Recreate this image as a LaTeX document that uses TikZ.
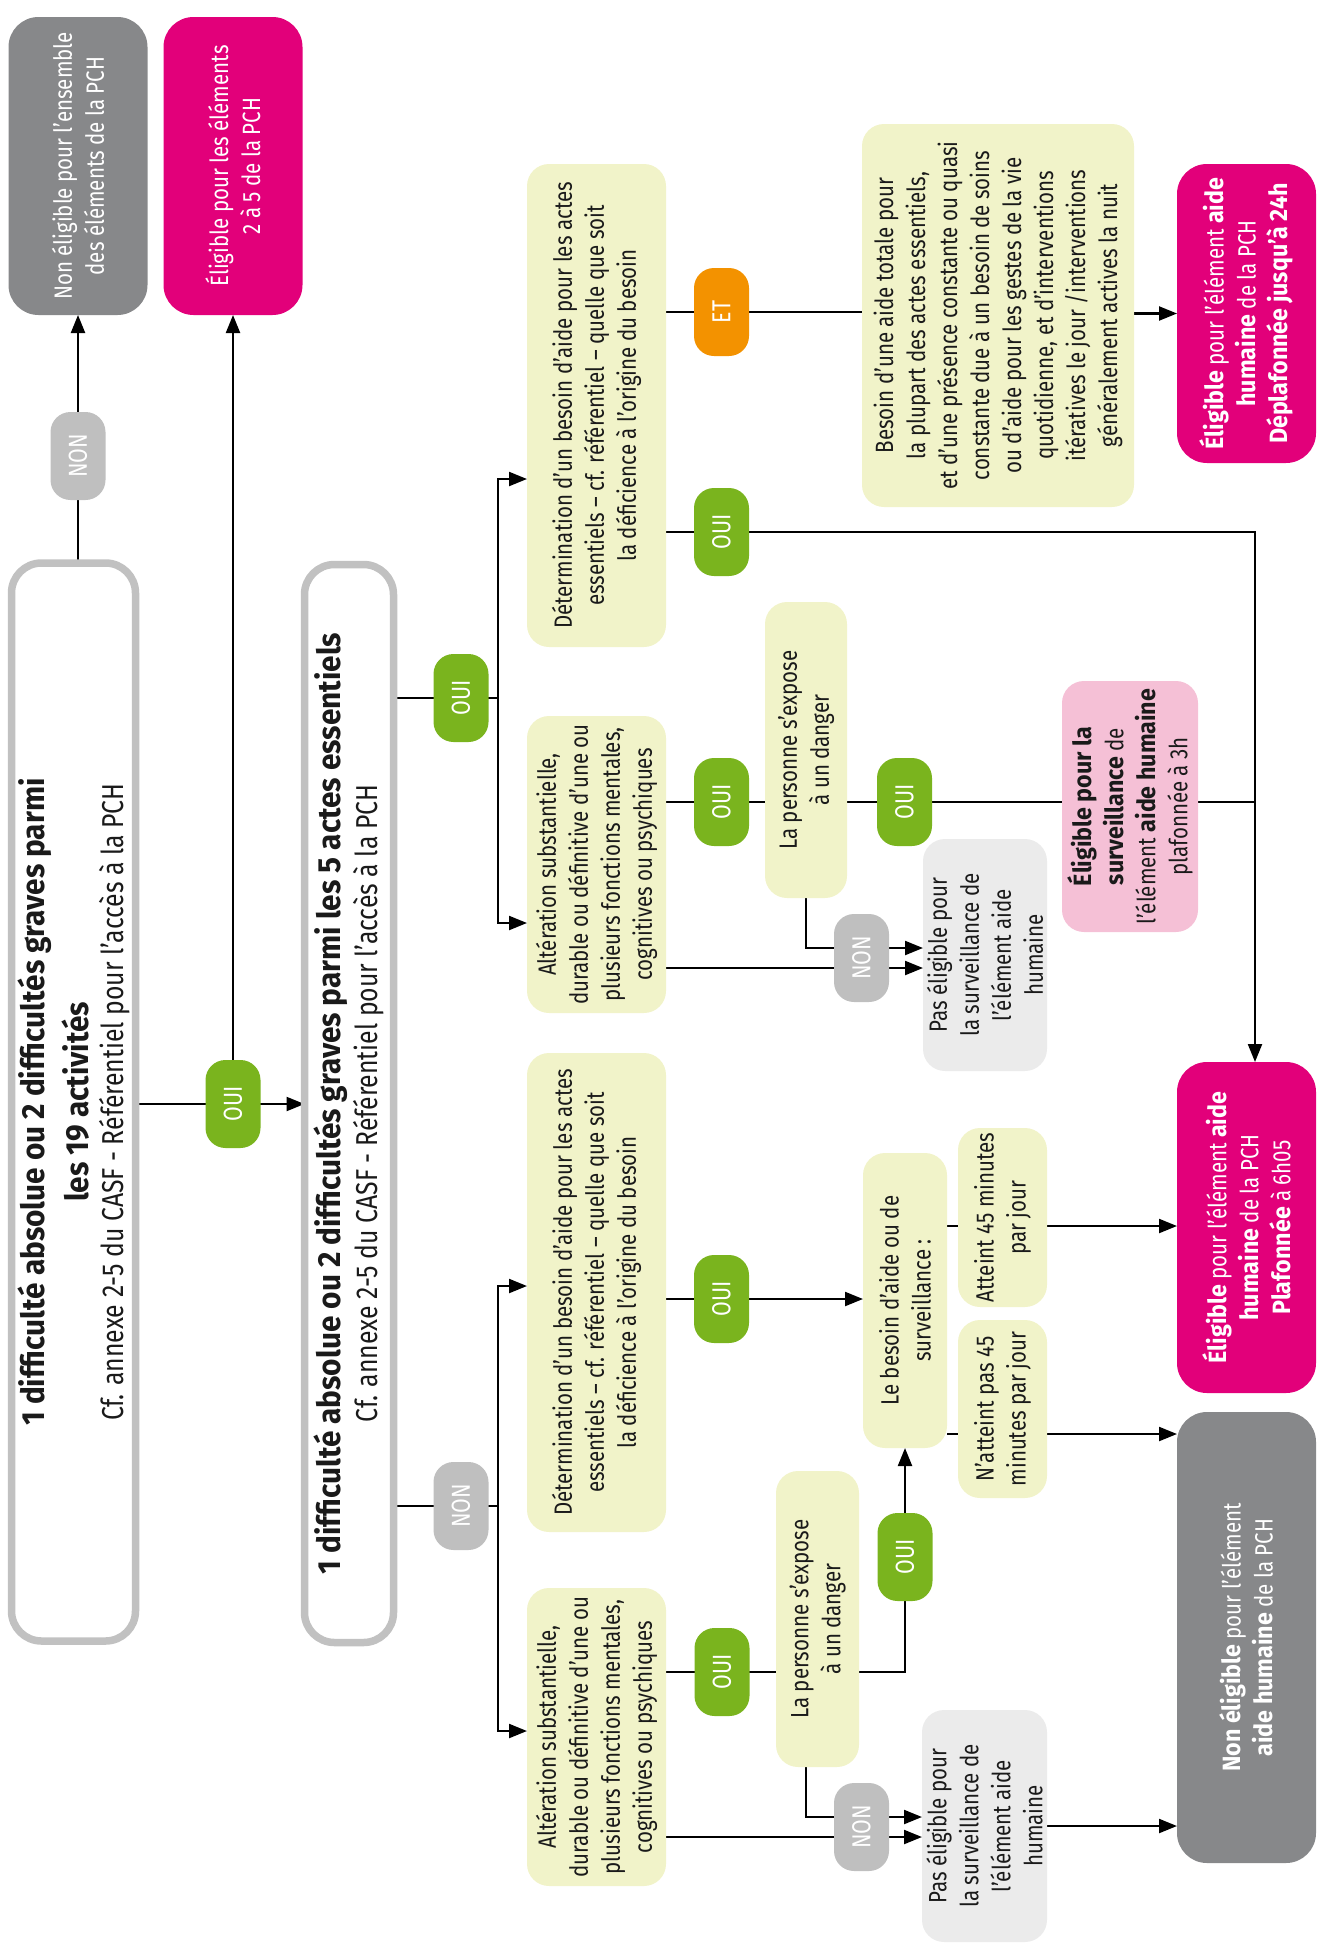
\documentclass[tikz,border=0pt]{standalone}
\usepackage{fontspec}
\setmainfont{Fira Sans}[UprightFeatures={FakeStretch=0.82}, BoldFeatures={FakeStretch=0.93}]
\usetikzlibrary{arrows.meta,backgrounds,calc}
\definecolor{cream}{HTML}{F1F3C9}
\definecolor{vert}{HTML}{7AB41E}
\definecolor{gbadge}{HTML}{BFBFBF}
\definecolor{dgray}{HTML}{87888A}
\definecolor{mag}{HTML}{E2007A}
\definecolor{rose}{HTML}{F5C0D6}
\definecolor{orng}{HTML}{F39200}
\definecolor{lgray}{HTML}{EBEBEB}
\definecolor{outl}{HTML}{C1C1C1}
\definecolor{ink}{HTML}{1A1A1A}
\newcommand\bodyfont{\fontsize{25pt}{32pt}\selectfont}
\newcommand\badgefont{\fontsize{26pt}{28pt}\selectfont}
\newcommand\titlefont{\fontsize{30.2pt}{32pt}\selectfont}
\newcommand\titlebold{\fontsize{32pt}{32pt}\selectfont\bfseries}
\begin{document}
\begin{tikzpicture}[x=1pt,y=-1pt,
  base/.style={rotate=90, inner sep=0pt, outer sep=0pt, align=center, font=\bodyfont, text=ink, rounded corners=22pt},
  cbox/.style={base, fill=cream},
  badge/.style={base, minimum width=88pt, minimum height=55pt, rounded corners=20pt, text=white, font=\badgefont},
  oui/.style={badge, fill=vert},
  non/.style={badge, fill=gbadge},
  etb/.style={badge, fill=orng},
  frame/.style={base, draw=outl, line width=7.5pt, rounded corners=30pt, font=\titlefont},
  bigbox/.style={base, text=white, rounded corners=30pt},
  wz/.style 2 args={minimum width=#1pt, minimum height=#2pt},
  conn/.style={line width=2.2pt},
  arr/.style={conn, -{Triangle[length=18pt,width=14pt]}}
]
\useasboundingbox (0,0) rectangle (1319,1955);

% top results
\node[bigbox, fill=dgray, wz={298}{139}] (G0) at (78,166) {Non éligible pour l’ensemble\\des éléments de la PCH};
\node[bigbox, fill=mag, wz={298}{139}] (M0) at (233,166) {Éligible pour les éléments\\2 à 5 de la PCH};
\node[non] (N0) at (78,456) {NON};
\node[oui] (O0) at (233,1104) {OUI};

% title frames
\node[frame, wz={1078}{124}] (B1) at (73.5,1102) {\titlebold 1 difficulté absolue ou 2 difficultés graves parmi\\[9pt]\titlebold les 19 activités\\[3pt]\titlefont Cf. annexe 2-5 du CASF - Référentiel pour l’accès à la PCH};
\node[frame, wz={1078}{89}] (B2) at (349,1103.5) {\titlebold 1 difficulté absolue ou 2 difficultés graves parmi les 5 actes essentiels\\[5pt]\titlefont Cf. annexe 2-5 du CASF - Référentiel pour l’accès à la PCH};

\node[oui] (O1) at (461,698) {OUI};
\node[non] (N1) at (461,1506) {NON};

% criteria
\node[cbox, wz={483}{139}] (D1) at (596.5,405.5) {Détermination d’un besoin d’aide pour les actes\\essentiels – cf. référentiel – quelle que soit\\la déficience à l’origine du besoin};
\node[cbox, wz={297}{139}] (A1) at (596.5,864.5) {Altération substantielle,\\durable ou définitive d’une ou\\plusieurs fonctions mentales,\\cognitives ou psychiques};
\node[cbox, wz={479}{139}] (D2) at (596.5,1292.5) {Détermination d’un besoin d’aide pour les actes\\essentiels – cf. référentiel – quelle que soit\\la déficience à l’origine du besoin};
\node[cbox, wz={298}{139}] (A2) at (596.5,1737) {Altération substantielle,\\durable ou définitive d’une ou\\plusieurs fonctions mentales,\\cognitives ou psychiques};

\node[etb] (ET) at (721.5,312) {ET};
\node[oui] (O2) at (721.5,532) {OUI};
\node[oui] (O3) at (721.5,802) {OUI};
\node[oui] (O4) at (721.5,1299) {OUI};
\node[oui] (O5) at (722,1672) {OUI};

\node[cbox, wz={296}{82}] (P1) at (806,750) {La personne s’expose\\à un danger};
\node[cbox, wz={296}{83}] (P2) at (817.5,1619) {La personne s’expose\\à un danger};
\node[oui] (O6) at (904.5,802) {OUI};
\node[non] (N2) at (861.5,958) {NON};
\node[non] (N3) at (861.5,1827) {NON};
\node[oui] (O7) at (905,1557) {OUI};

\node[cbox, wz={383}{272}] (B24) at (998,315.5) {Besoin d’une aide totale pour\\la plupart des actes essentiels,\\et d’une présence constante ou quasi\\constante due à un besoin de soins\\ou d’aide pour les gestes de la vie\\quotidienne, et d’interventions\\itératives le jour /interventions\\généralement actives la nuit};
\node[base, fill=rose, wz={251}{136}] (S3) at (1130,806.5) {\textbf{Éligible pour la}\\\textbf{surveillance} de\\l’élément \textbf{aide humaine}\\plafonnée à 3h};
\node[base, fill=lgray, wz={232}{124}] (PE1) at (985,955) {Pas éligible pour\\la surveillance de\\l’élément aide\\humaine};
\node[base, fill=lgray, wz={232}{125}] (PE2) at (984.5,1826) {Pas éligible pour\\la surveillance de\\l’élément aide\\humaine};
\node[cbox, wz={295}{84}] (LB) at (905,1300.5) {Le besoin d’aide ou de\\surveillance :};
\node[cbox, wz={179}{89}] (A45) at (1002.5,1217.5) {Atteint 45 minutes\\par jour};
\node[cbox, wz={178}{89}] (NA45) at (1002.5,1409) {N’atteint pas 45\\minutes par jour};

% final results
\node[bigbox, fill=mag, wz={299}{139}] (M24) at (1246.5,313.5) {\textbf{Éligible} pour l’élément \textbf{aide}\\\textbf{humaine} de la PCH\\\textbf{Déplafonnée jusqu’à 24h}};
\node[bigbox, fill=mag, wz={331}{139}] (M6) at (1246.5,1227.5) {\textbf{Éligible} pour l’élément \textbf{aide}\\\textbf{humaine} de la PCH\\\textbf{Plafonnée} à 6h05};
\node[bigbox, fill=dgray, wz={451}{139}] (GF) at (1246.5,1637.5) {\textbf{Non éligible} pour l’élément\\\textbf{aide humaine} de la PCH};

% helper coordinates
\coordinate (sp) at (498,0);
\coordinate (rt) at (1255,0);
\coordinate (xp) at (806,0);
\coordinate (yd1) at (0,479);
\coordinate (ya1) at (0,923);
\coordinate (yd2) at (0,1286);
\coordinate (ya2) at (0,1731);
\coordinate (yn1a) at (0,948);
\coordinate (yn1b) at (0,968);
\coordinate (yn2a) at (0,1817);
\coordinate (yn2b) at (0,1837);
\coordinate (y45) at (0,1226);
\coordinate (y45n) at (0,1434);

\begin{scope}[on background layer]
\draw[arr] (B1.east -| N0) -- (G0.west -| N0);
\draw[arr] (B1.south |- O0) -- (B2.north |- O0);
\draw[arr] (O0.center) -- (M0.west);
\draw[conn] (B2.south |- O1) -- (sp |- O1);
\draw[arr] (sp |- O1) |- (D1.north |- yd1);
\draw[arr] (sp |- O1) |- (A1.north |- ya1);
\draw[conn] (B2.south |- N1) -- (sp |- N1);
\draw[arr] (sp |- N1) |- (D2.north |- yd2);
\draw[arr] (sp |- N1) |- (A2.north |- ya2);
\draw[conn] (D1.south |- ET) -- (B24.north |- ET);
\draw[arr] (B24.south |- M24) -- (M24.north);
\draw[arr] (D1.south |- O2) -| (rt |- M6.east);
\draw[conn] (A1.south |- O3) -- (P1.north |- O3);
\draw[conn] (P1.south |- O6) -- (S3.north |- O6);
\draw[conn] (S3.south |- O6) -- (rt |- O6);
\draw[arr] (P1.west) |- (PE1.north |- yn1a);
\draw[arr] (A1.south |- yn1b) -- (PE1.north |- yn1b);
\draw[arr] (D2.south |- O4) -- (LB.north |- O4);
\draw[conn] (LB.south |- y45) -- (A45.north |- y45);
\draw[arr] (A45.south |- y45) -- (M6.north |- y45);
\draw[conn] (LB.south |- y45n) -- (NA45.north |- y45n);
\draw[arr] (NA45.south |- y45n) -- (GF.north |- y45n);
\draw[conn] (A2.south |- O5) -- (P2.north |- O5);
\draw[arr] (P2.south |- O5) -| (LB.west);
\draw[arr] (xp |- P2.west) |- (PE2.north |- yn2a);
\draw[arr] (A2.south |- yn2b) -- (PE2.north |- yn2b);
\draw[arr] (PE2.south) -- (GF.north |- PE2.south);
\end{scope}
\end{tikzpicture}
\end{document}
